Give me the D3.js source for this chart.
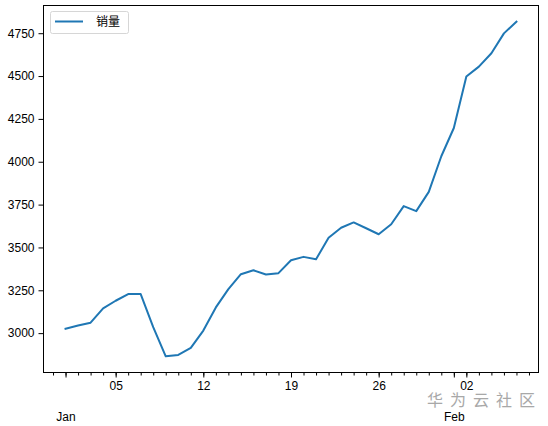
<!DOCTYPE html>
<html>
<head>
<meta charset="utf-8">
<script src="https://cdn.jsdelivr.net/npm/d3@7"></script>
<style>
body { margin: 0; background: #fff; }
text { font-family: "Liberation Sans", Arial, sans-serif; }
</style>
</head>
<body>
<svg></svg>
<script>
// ================= DATA =================
var seriesName = "销量";
var startDate = "2015-01-01";
var sales = [3026, 3044, 3061, 3144, 3189, 3228, 3228, 3035, 2865, 2873,
             2914, 3015, 3150, 3257, 3344, 3367, 3342, 3350, 3425, 3445,
             3431, 3557, 3615, 3646, 3612, 3577, 3635, 3741, 3712, 3824,
             4032, 4197, 4497, 4555, 4633, 4749, 4817];
var yTicks = [3000, 3250, 3500, 3750, 4000, 4250, 4500, 4750];
var watermark = "华 为 云 社 区";

var width = 548;
var height = 426;
var margin = {left: 43, right: 9, top: 5, bottom: 53};

var parse = d3.timeParse("%Y-%m-%d");
var t0 = parse(startDate);
var data = sales.map(function(v, i) { return {date: d3.timeDay.offset(t0, i), value: v}; });

// ================= SCALES (matplotlib-like 5% margins) =================
var xExt = d3.extent(data, d => d.date);
var xPad = (xExt[1] - xExt[0]) * 0.05;
var xs = d3.scaleTime()
    .domain([new Date(+xExt[0] - xPad), new Date(+xExt[1] + xPad)])
    .range([margin.left, width - margin.right]);

var yExt = d3.extent(data, d => d.value);
var yPad = (yExt[1] - yExt[0]) * 0.05;
var ys = d3.scaleLinear()
    .domain([yExt[0] - yPad, yExt[1] + yPad])
    .range([height - margin.bottom, margin.top]);

var svg = d3.select("svg").attr("width", width).attr("height", height);

// ================= LINE =================
var line = d3.line()
    .x(d => xs(d.date))
    .y(d => ys(d.value));

svg.append("path")
    .datum(data)
    .attr("fill", "none")
    .attr("stroke", "#1f77b4")
    .attr("stroke-width", 2)
    .attr("stroke-linejoin", "round")
    .attr("stroke-linecap", "square")
    .attr("d", line);

// ================= AXES =================
var bottom = height - margin.bottom;

// minor: every day
var days = d3.timeDay.range(xs.domain()[0], xs.domain()[1]);
svg.append("g")
    .attr("transform", "translate(0," + bottom + ")")
    .call(d3.axisBottom(xs).tickValues(days).tickSize(2.5).tickFormat(""))
    .call(g => g.select(".domain").remove());

// major: mondays
var mondays = d3.timeMonday.range(xs.domain()[0], xs.domain()[1]);
svg.append("g")
    .attr("transform", "translate(0," + bottom + ")")
    .call(d3.axisBottom(xs).tickValues(mondays).tickSize(4.5).tickPadding(4).tickFormat(d3.timeFormat("%d")))
    .call(g => g.select(".domain").remove())
    .call(g => g.selectAll("text").attr("font-size", 12).attr("fill", "#000")
        .attr("font-family", "'Liberation Sans', Arial, sans-serif"));

// month starts
var months = d3.timeMonth.range(xs.domain()[0], xs.domain()[1]);
svg.append("g")
    .attr("transform", "translate(0," + bottom + ")")
    .call(d3.axisBottom(xs).tickValues(months).tickSize(4.5).tickPadding(35).tickFormat(d3.timeFormat("%b")))
    .call(g => g.select(".domain").remove())
    .call(g => g.selectAll("text").attr("font-size", 12).attr("fill", "#000")
        .attr("font-family", "'Liberation Sans', Arial, sans-serif"));

svg.append("g")
    .attr("transform", "translate(" + margin.left + ",0)")
    .call(d3.axisLeft(ys).tickValues(yTicks).tickSize(4.5).tickPadding(4).tickFormat(d3.format("d")))
    .call(g => g.select(".domain").remove())
    .call(g => g.selectAll("text").attr("font-size", 12).attr("fill", "#000")
        .attr("font-family", "'Liberation Sans', Arial, sans-serif"));

// frame
svg.append("rect")
    .attr("x", margin.left + 0.5)
    .attr("y", margin.top + 0.5)
    .attr("width", width - margin.left - margin.right - 1)
    .attr("height", height - margin.top - margin.bottom - 1)
    .attr("fill", "none")
    .attr("stroke", "#000")
    .attr("stroke-width", 1);

// ================= LEGEND =================
var lg = svg.append("g").attr("transform", "translate(50,11)");
lg.append("rect")
    .attr("x", 0.5).attr("y", 0.5)
    .attr("width", 78).attr("height", 22)
    .attr("rx", 2)
    .attr("fill", "#fff")
    .attr("stroke", "#d6d6d6");
lg.append("line")
    .attr("x1", 5).attr("x2", 33).attr("y1", 10.5).attr("y2", 10.5)
    .attr("stroke", "#1f77b4").attr("stroke-width", 2);
lg.append("text")
    .attr("x", 46).attr("y", 15)
    .attr("font-size", 12)
    .style("font-family", "'Noto Sans CJK SC', sans-serif")
    .text(seriesName);

// ================= WATERMARK =================
svg.append("text")
    .attr("x", 427).attr("y", 406)
    .attr("textLength", 108)
    .attr("lengthAdjust", "spacing")
    .attr("font-size", 16)
    .attr("fill", "#a8a8a8")
    .style("font-family", "'Noto Sans CJK SC', sans-serif")
    .text(watermark);
</script>
</body>
</html>
